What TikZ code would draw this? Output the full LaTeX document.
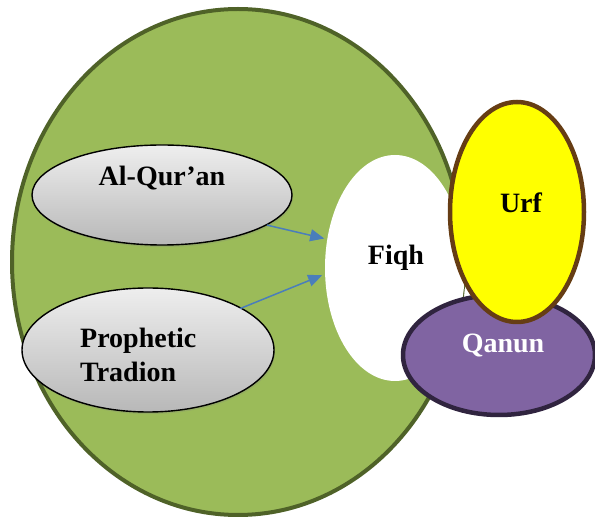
\documentclass[tikz,border=0pt]{standalone}
\usepackage{fontspec}
\setmainfont{Liberation Serif}
\usetikzlibrary{shapes.geometric,arrows.meta,shadows}
\definecolor{greenfill}{HTML}{9BBB59}
\definecolor{greenline}{HTML}{4F6228}
\definecolor{qfill}{HTML}{8064A2}
\definecolor{qline}{HTML}{30243F}
\definecolor{urfline}{HTML}{663D14}
\definecolor{urffill}{HTML}{FFFF00}
\definecolor{arrowblue}{HTML}{4A7EBB}
\definecolor{gtop}{HTML}{EEEEEE}
\definecolor{gbot}{HTML}{B8B8B8}
\tikzset{
  oval/.style={ellipse, inner sep=0pt, draw},
  grayoval/.style={oval, line width=1.4pt, draw=black, top color=gtop, bottom color=gbot,
    drop shadow={opacity=0.25, shadow xshift=1pt, shadow yshift=-2pt}},
  lbl/.style={font=\fontsize{28}{34}\selectfont\bfseries, inner sep=0pt},
  feed/.style={draw=arrowblue, line width=1.5pt, -{Triangle[length=14pt,width=12pt]}, shorten >=3pt}
}
\begin{document}
\begin{tikzpicture}[x=1pt,y=1pt]
\useasboundingbox (0,0) rectangle (595,517);
\node[oval, fill=greenfill, draw=greenline, line width=4pt, minimum width=452pt, minimum height=506pt] (green) at (238,255) {};
\node[oval, draw=none, fill=white, minimum width=140pt, minimum height=226pt] (fiqh) at (395,249) {};
\node[oval, fill=qfill, draw=qline, line width=4.5pt, minimum width=192pt, minimum height=120pt] (qanun) at (499,162) {};
\node[oval, fill=urffill, draw=urfline, line width=4.5pt, minimum width=134pt, minimum height=220pt] (urf) at (517,305) {};
\node[grayoval, minimum width=260pt, minimum height=100pt] (aq) at (162,322) {};
\node[grayoval, minimum width=252pt, minimum height=124pt] (pt) at (148,167) {};
\node[lbl] (aqt) at (162,339) {Al-Qur’an};
\node[lbl, anchor=west, align=left] (ptt) at (80,162) {Prophetic\\Tradion};
\node[lbl] (fiqht) at (396,259) {Fiqh};
\node[lbl] (urft) at (521,314) {Urf};
\node[lbl, text=white] (qanunt) at (503,171) {Qanun};
\draw[feed] (aq.-16) -- (fiqh.157);
\draw[feed] ([shift={(-8pt,3pt)}]pt.21) -- (fiqh.185);
\end{tikzpicture}
\end{document}
